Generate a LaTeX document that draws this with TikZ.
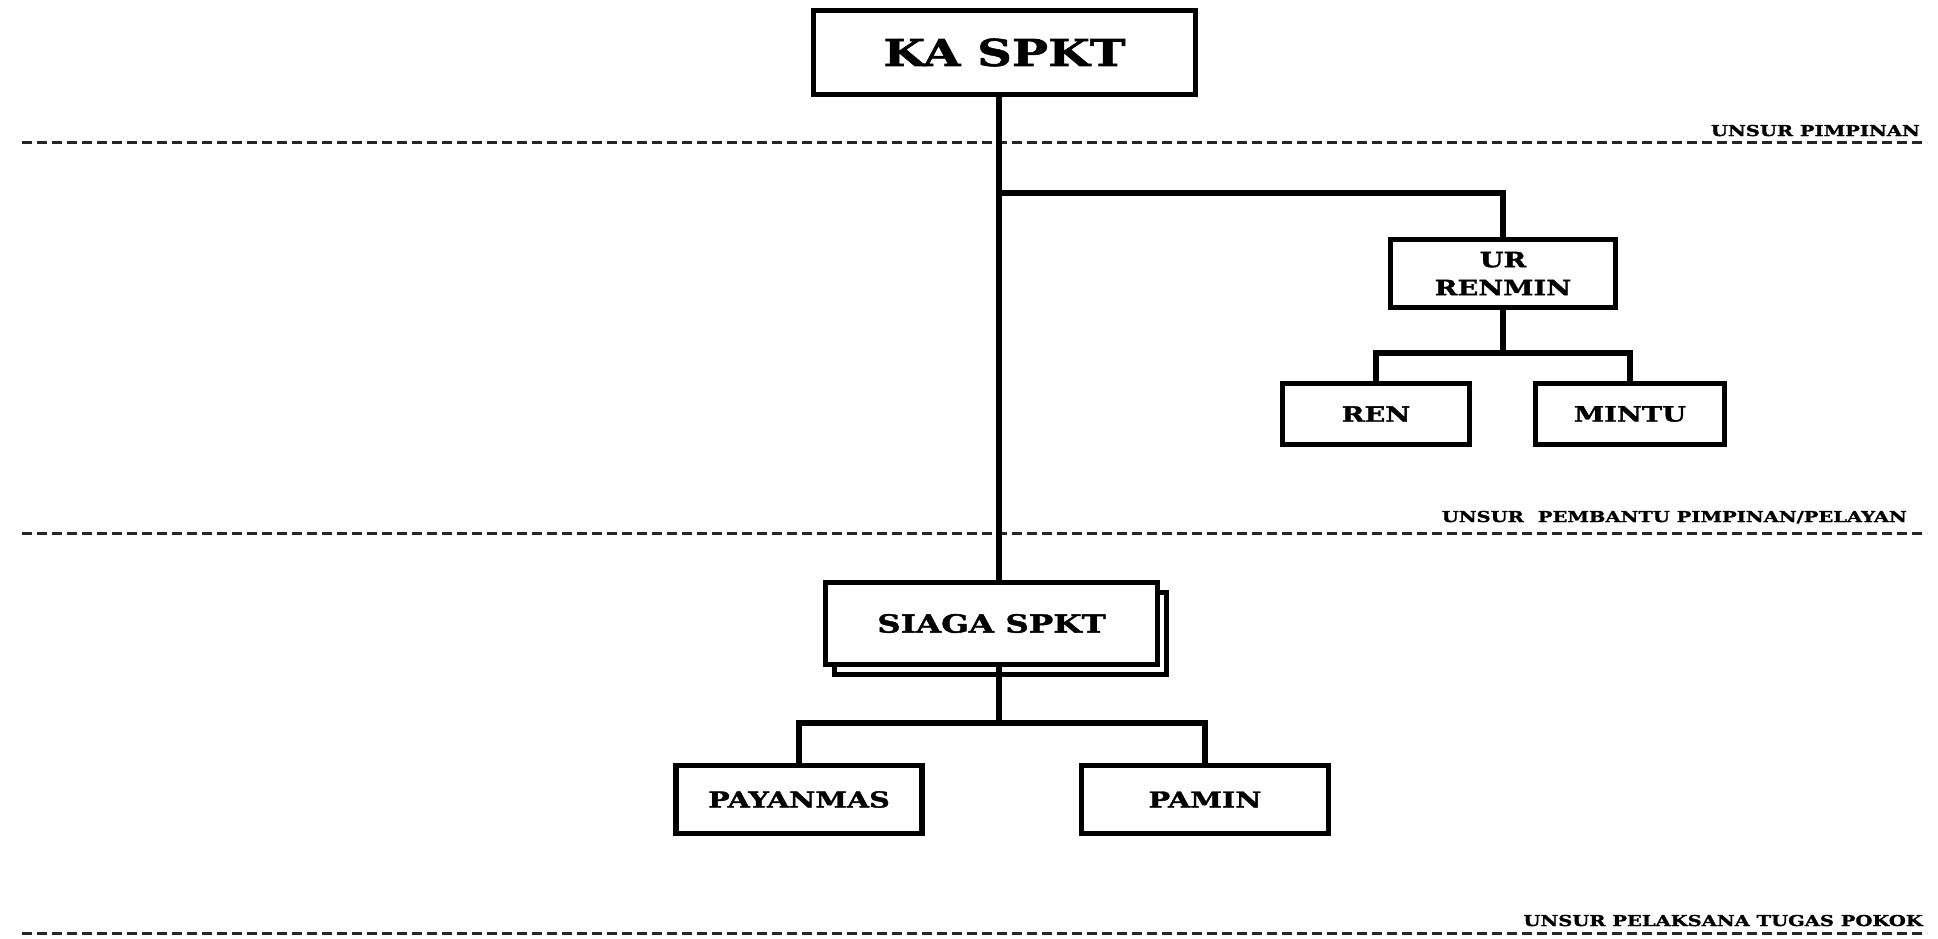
\documentclass[tikz,border=0pt]{standalone}
\usepackage{fontspec}
\newfontfamily\slab[FakeStretch=1.3,FakeBold=1.5]{DejaVu Serif Bold}
\begin{document}
\begin{tikzpicture}[x=1pt,y=-1pt,
  box/.style={draw,line width=5.5pt,fill=white,rectangle,inner sep=0pt,align=center,font=\slab},
  conn/.style={line width=5.5pt,line join=miter},
  sep/.style={line width=3pt,dash pattern=on 10pt off 5pt,black!85},
  lab/.style={anchor=base east,inner sep=0pt,font=\slab\fontsize{15}{18}\selectfont}]
\useasboundingbox (0,0) rectangle (1938,938);
% separators
\coordinate (s1l) at (22,142); \coordinate (s1r) at (1927,142);
\coordinate (s2l) at (22,533); \coordinate (s2r) at (1927,533);
\coordinate (s3l) at (22,933); \coordinate (s3r) at (1927,933);
\draw[sep] (s1l) -- (s1r);
\draw[sep] (s2l) -- (s2r);
\draw[sep] (s3l) -- (s3r);
\node[lab] (l1) at (1920,136) {UNSUR PIMPINAN};
\node[lab] (l2) at (1907,522) {UNSUR\hspace{14pt}PEMBANTU PIMPINAN/PELAYAN};
\node[lab] (l3) at (1923,926) {UNSUR PELAKSANA TUGAS POKOK};
% nodes
\node[box,minimum width=382pt,minimum height=84pt,font=\slab\fontsize{37}{40}\selectfont] (ka) at (1004.5,52.5) {KA SPKT};
\node[box,minimum width=225pt,minimum height=68pt,font=\slab\fontsize{21}{28}\selectfont] (ur) at (1503,273.5) {UR\\RENMIN};
\node[box,minimum width=187pt,minimum height=61pt,font=\slab\fontsize{21}{24}\selectfont] (ren) at (1376,414) {REN};
\node[box,minimum width=189pt,minimum height=61pt,font=\slab\fontsize{21}{24}\selectfont] (mintu) at (1630,414) {MINTU};
\node[box,minimum width=332pt,minimum height=82pt] (siagab) at (1000.5,633.5) {};
\node[box,minimum width=332pt,minimum height=82pt,font=\slab\fontsize{25}{28}\selectfont] (siaga) at (991.5,623.5) {SIAGA SPKT};
\node[box,minimum width=246pt,minimum height=68pt,font=\slab\fontsize{22}{25}\selectfont] (pay) at (799,799.5) {PAYANMAS};
\node[box,minimum width=247pt,minimum height=68pt,font=\slab\fontsize{22}{25}\selectfont] (pamin) at (1205,799.5) {PAMIN};
% connectors
\coordinate (mx) at (999,0);
\coordinate (br1) at (999,193);
\coordinate (br2) at (0,353);
\coordinate (br3) at (999,723);
\draw[conn] (ka.south -| mx) -- (siaga.north -| mx);
\draw[conn] (br1) -| (ur.north);
\draw[conn] (ur.south) -- (ur.south |- br2);
\draw[conn] (ren.north) -- (ren.north |- br2) -- (mintu.north |- br2) -- (mintu.north);
\draw[conn] (siaga.south -| mx) -- (siagab.south -| mx) -- (br3);
\draw[conn] (pay.north) -- (pay.north |- br3) -- (pamin.north |- br3) -- (pamin.north);
\end{tikzpicture}
\end{document}
